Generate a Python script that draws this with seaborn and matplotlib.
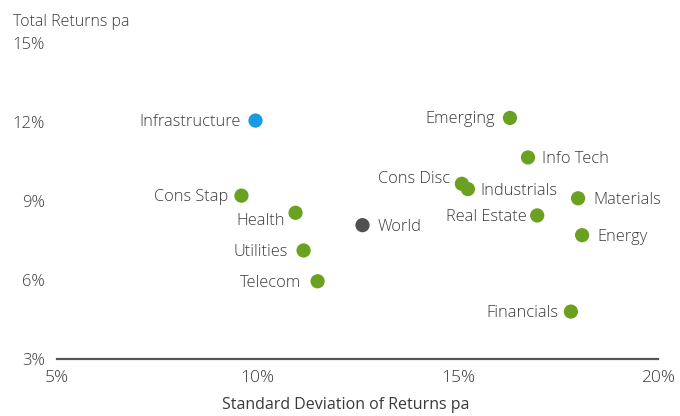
import pandas as pd
import matplotlib
matplotlib.use("Agg")
import matplotlib.pyplot as plt
import seaborn as sns

# ---- data ----
names = ["Infrastructure", "Emerging", "Info Tech", "Cons Disc", "Industrials",
         "Materials", "Real Estate", "Energy", "Cons Stap", "Health", "World",
         "Utilities", "Telecom", "Financials"]
std_dev = [9.95, 16.3, 16.75, 15.1, 15.25, 18.0, 16.98, 18.1, 9.6, 10.95, 12.62,
           11.15, 11.5, 17.82]
returns = [12.05, 12.15, 10.65, 9.65, 9.45, 9.1, 8.45, 7.7, 9.2, 8.55, 8.08,
           7.12, 5.95, 4.8]
group = ["Infra", "Equity", "Equity", "Equity", "Equity", "Equity", "Equity",
         "Equity", "Equity", "Equity", "World", "Equity", "Equity", "Equity"]

df = pd.DataFrame({"name": names, "sd": std_dev, "ret": returns, "group": group})

palette = {"Equity": "#6aa121", "Infra": "#1a9ae0", "World": "#505050"}

# label offsets in pixels (dx, dy); negative dx = label on the left
label_px = [(-15, 0), (-15, 0), (14, 0), (-12, 6), (12, 0), (15, 0), (-10, 0),
            (15, 0), (-13, 0), (-11, -7), (15, 0), (-16, 0), (-16, 0), (-13, 0)]

sns.set_style("white")
plt.rcParams["font.family"] = ["Open Sans", "DejaVu Sans"]
plt.rcParams["font.weight"] = "light"

fig = plt.figure(figsize=(6.8, 4.16), dpi=100)
ax = fig.add_axes([0.084, 0.137, 0.884, 0.76])

sns.scatterplot(data=df, x="sd", y="ret", hue="group", palette=palette,
                s=105, edgecolor="none", legend=False, ax=ax, zorder=3)

txt = "#3a3a3a"
fs = 11.8
for i, row in df.iterrows():
    dx, dy = label_px[i]
    ha = "left" if dx > 0 else "right"
    ax.annotate(row["name"], (row["sd"], row["ret"]),
                xytext=(dx * 0.72, (dy - 1.5) * 0.72),
                textcoords="offset points", ha=ha, va="center",
                fontsize=fs, color=txt)

ax.set_xlim(5, 20)
ax.set_ylim(3, 15)
ax.set_xticks([5, 10, 15, 20])
ax.set_xticklabels(["5%", "10%", "15%", "20%"])
ax.set_yticks([3, 6, 9, 12, 15])
ax.set_yticklabels(["3%", "6%", "9%", "12%", "15%"])
ax.tick_params(axis="both", length=0, colors=txt)
ax.tick_params(axis="y", pad=9, labelsize=12)
ax.tick_params(axis="x", pad=8, labelsize=12.5)

for s in ["top", "right", "left"]:
    ax.spines[s].set_visible(False)
ax.spines["bottom"].set_color("#555555")
ax.spines["bottom"].set_linewidth(1.6)

ax.set_xlabel("Standard Deviation of Returns pa", fontsize=11.5, color=txt)
ax.xaxis.set_label_coords((346 - 57) / 601, -(405 - 359) / 316)
ax.xaxis.label.set_va("center")
ax.set_ylabel("")
fig.text(13 / 680, 1 - 22 / 416, "Total Returns pa", fontsize=11.5, color=txt,
         ha="left", va="center")

fig.savefig("out.png", dpi=100)
